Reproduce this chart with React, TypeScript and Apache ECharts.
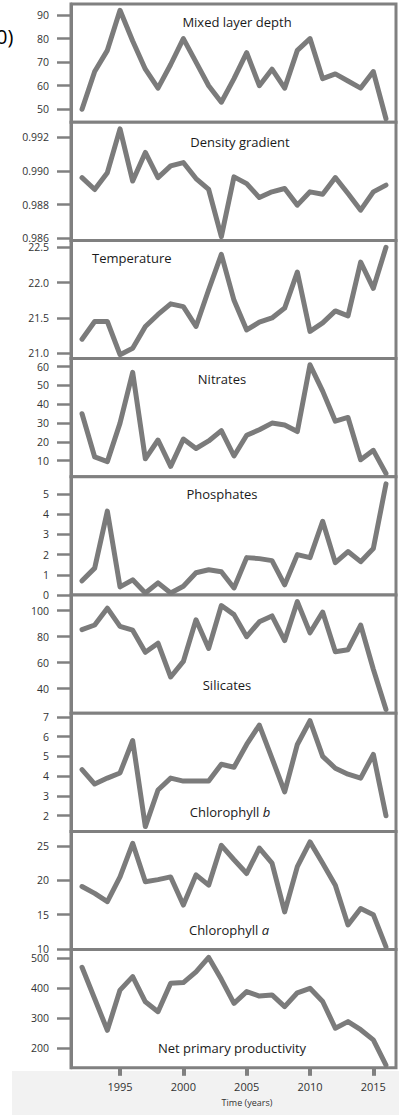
import React, { useEffect, useRef } from "react";
import * as echarts from "echarts";

const years = [1992, 1993, 1994, 1995, 1996, 1997, 1998, 1999, 2000, 2001, 2002, 2003, 2004, 2005, 2006, 2007, 2008, 2009, 2010, 2011, 2012, 2013, 2014, 2015, 2016];

const mixedLayerDepth = [50, 66, 75, 92, 79, 67, 59, 69, 80, 70, 60, 53, 63, 74, 60, 67, 59, 75, 80, 63, 65, 62, 59, 66, 46];
const densityGradient = [0.9896, 0.9889, 0.9899, 0.9925, 0.9894, 0.9911, 0.9896, 0.9903, 0.9905, 0.98955, 0.9889, 0.9861, 0.98965, 0.98925, 0.98842, 0.98876, 0.98896, 0.98797, 0.98876, 0.98862, 0.98961, 0.98866, 0.98767, 0.98876, 0.98916];
const temperature = [21.2, 21.45, 21.45, 20.98, 21.07, 21.38, 21.55, 21.7, 21.66, 21.38, 21.9, 22.4, 21.75, 21.33, 21.44, 21.5, 21.64, 22.15, 21.31, 21.43, 21.6, 21.53, 22.29, 21.92, 22.5];
const nitrates = [35, 12, 9.5, 30, 57, 11, 21, 7, 21.5, 16.5, 20.5, 26, 12.5, 23.5, 26.5, 30, 29, 25.5, 61, 47, 31, 33, 10.5, 15.5, 3.2];
const phosphates = [0.7, 1.33, 4.15, 0.4, 0.75, 0.1, 0.6, 0.1, 0.43, 1.1, 1.25, 1.15, 0.35, 1.85, 1.8, 1.7, 0.5, 2.0, 1.85, 3.65, 1.6, 2.15, 1.65, 2.3, 5.5];
const silicates = [85.5, 89, 102, 88, 85, 68, 75, 49, 61, 93, 71, 104, 97, 80, 91.5, 96, 77, 107, 83, 99, 68.5, 70, 89, 55, 24];
const chlorophyllB = [4.33, 3.6, 3.9, 4.16, 5.8, 1.45, 3.3, 3.9, 3.75, 3.75, 3.75, 4.6, 4.45, 5.6, 6.58, 4.9, 3.2, 5.6, 6.8, 5.0, 4.4, 4.1, 3.9, 5.1, 2.0];
const chlorophyllA = [19.1, 18.1, 16.9, 20.5, 25.4, 19.8, 20.1, 20.5, 16.4, 20.8, 19.3, 25.1, 23.0, 21.0, 24.7, 22.5, 15.4, 22.0, 25.6, 22.5, 19.3, 13.5, 15.9, 15.0, 10.3];
const netPrimaryProductivity = [470, 365, 260, 394, 439, 355, 322, 417, 419, 455, 503, 430, 350, 389, 374, 378, 339, 385, 400, 356, 267, 289, 262, 228, 144];

const xTicks = [1995, 2000, 2005, 2010, 2015];

const panels = [
  { name: "Mixed layer depth", values: mixedLayerDepth, min: 44.53, max: 94.66, ticks: [50, 60, 70, 80, 90], dec: 0 },
  { name: "Density gradient", values: densityGradient, min: 0.985875, max: 0.992897, ticks: [0.986, 0.988, 0.99, 0.992], dec: 3 },
  { name: "Temperature", values: temperature, min: 20.925, max: 22.598, ticks: [21.0, 21.5, 22.0, 22.5], dec: 1 },
  { name: "Nitrates", values: nitrates, min: 1.44, max: 64.3, ticks: [10, 20, 30, 40, 50, 60], dec: 0 },
  { name: "Phosphates", values: phosphates, min: 0, max: 5.85, ticks: [0, 1, 2, 3, 4, 5], dec: 0 },
  { name: "Silicates", values: silicates, min: 21.15, max: 112.1, ticks: [40, 60, 80, 100], dec: 0 },
  { name: "Chlorophyll {i|b}", values: chlorophyllB, min: 1.207, max: 7.18, ticks: [2, 3, 4, 5, 6, 7], dec: 0 },
  { name: "Chlorophyll {i|a}", values: chlorophyllA, min: 9.91, max: 27.13, ticks: [10, 15, 20, 25], dec: 0 },
  { name: "Net primary productivity", values: netPrimaryProductivity, min: 135, max: 529, ticks: [200, 300, 400, 500], dec: 0 },
];

// layout (pixels)
const titlePos = [
  { x: 237, dy: 18, align: "center" },
  { x: 240, dy: 20, align: "center" },
  { x: 92, dy: 18, align: "left" },
  { x: 222, dy: 20, align: "center" },
  { x: 222, dy: 17.5, align: "center" },
  { x: 227, dy: 90, align: "center" },
  { x: 230, dy: 98.5, align: "center" },
  { x: 229, dy: 98.6, align: "center" },
  { x: 232, dy: 98.7, align: "center" },
];

const GRID_LEFT = 71;
const GRID_RIGHT = 3;
const TOP0 = 4;
const PANEL_H = 118.2;
const LINE_COLOR = "#7b7b7b";
const BOX_COLOR = "#808080";
const FONT = "'Open Sans', 'Noto Sans', sans-serif";

export default function App() {
  const ref = useRef<HTMLDivElement>(null);
  useEffect(() => {
    if (!ref.current) return;
    const chart = echarts.init(ref.current, undefined, { renderer: "svg" });
    const n = panels.length;
    const grids: any[] = [];
    const xAxes: any[] = [];
    const yAxes: any[] = [];
    const series: any[] = [];
    const graphics: any[] = [];

    graphics.push({
      type: "rect",
      z: -10,
      shape: { x: 12, y: 1071, width: 387, height: 44 },
      style: { fill: "#f2f2f2" },
      silent: true,
    });

    panels.forEach((p, i) => {
      const top = TOP0 + i * PANEL_H;
      grids.push({
        left: GRID_LEFT,
        right: GRID_RIGHT,
        top,
        height: PANEL_H,
        show: true,
        borderColor: BOX_COLOR,
        borderWidth: 3,
        backgroundColor: "#ffffff",
        containLabel: false,
      });
      const isLast = i === n - 1;
      xAxes.push({
        type: "value",
        gridIndex: i,
        min: 1991.13,
        max: 2016.79,
        show: true,
        axisLine: { show: false },
        splitLine: { show: false },
        axisTick: {
          show: isLast,
          customValues: xTicks,
          length: 8,
          lineStyle: { color: BOX_COLOR, width: 4 },
        },
        axisLabel: {
          show: isLast,
          customValues: xTicks,
          margin: 13,
          fontSize: 11,
          fontFamily: FONT,
          color: "#333",
          formatter: (v: number) => String(Math.round(v)),
        },
      });
      yAxes.push({
        type: "value",
        gridIndex: i,
        min: p.min,
        max: p.max,
        axisLine: { show: true, lineStyle: { color: BOX_COLOR, width: 3 } },
        splitLine: { show: false },
        axisTick: {
          show: true,
          customValues: p.ticks,
          length: 14,
          lineStyle: { color: BOX_COLOR, width: 2.5 },
        },
        axisLabel: {
          show: true,
          customValues: p.ticks,
          margin: 22,
          fontSize: 10.5,
          fontFamily: FONT,
          color: "#333",
          formatter: (v: number) => v.toFixed(p.dec),
        },
      });
      series.push({
        type: "line",
        xAxisIndex: i,
        yAxisIndex: i,
        data: years.map((y, k) => [y, p.values[k]]),
        showSymbol: false,
        symbol: "none",
        lineStyle: { color: LINE_COLOR, width: 5, join: "round", cap: "round" },
        clip: false,
      });
      const tp = titlePos[i];
      graphics.push({
        type: "text",
        x: tp.x,
        y: top + tp.dy,
        z: 10,
        style: {
          text: p.name,
          fill: "#1a1a1a",
          fontSize: 13,
          fontFamily: FONT,
          align: tp.align,
          verticalAlign: "middle",
          rich: { i: { fontStyle: "italic", fontSize: 13, fontFamily: FONT, fill: "#1a1a1a" } },
        },
      });
    });

    graphics.push({
      type: "text",
      x: 247,
      y: 1102,
      style: {
        text: "Time (years)",
        fill: "#333",
        fontSize: 9,
        fontFamily: FONT,
        align: "center",
        verticalAlign: "middle",
      },
    });
    graphics.push({
      type: "text",
      x: -4,
      y: 36,
      style: {
        text: "0)",
        fill: "#000",
        fontSize: 20,
        fontFamily: FONT,
        align: "left",
        verticalAlign: "middle",
      },
    });

    chart.setOption({
      animation: false,
      backgroundColor: "#ffffff",
      grid: grids,
      xAxis: xAxes,
      yAxis: yAxes,
      series,
      graphic: graphics,
    });
    return () => chart.dispose();
  }, []);
  return (
    <div
      ref={ref}
      style={{ position: "fixed", left: 0, top: 0, width: 399, height: 1119 }}
    />
  );
}
